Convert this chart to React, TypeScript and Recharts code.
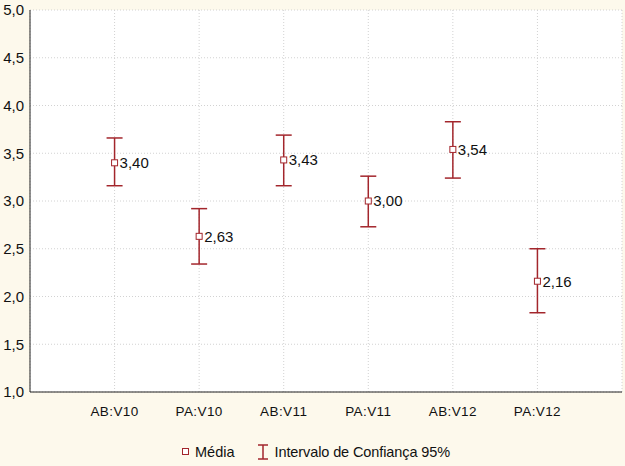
import React from 'react';
import { LineChart, Line, XAxis, YAxis, CartesianGrid, ErrorBar, LabelList } from 'recharts';

const categories = ['AB:V10', 'PA:V10', 'AB:V11', 'PA:V11', 'AB:V12', 'PA:V12'];
const means = [3.4, 2.63, 3.43, 3.0, 3.54, 2.16];
const ciLow = [3.16, 2.34, 3.16, 2.73, 3.24, 1.83];
const ciHigh = [3.66, 2.92, 3.69, 3.26, 3.83, 2.5];
const yTicks = [1, 1.5, 2, 2.5, 3, 3.5, 4, 4.5, 5];

const RED = '#a3262c';
const FONT = '"Liberation Sans", Arial, sans-serif';

const data = categories.map((name, i) => ({
  x: i + 1,
  name,
  mean: means[i],
  ci: [means[i] - ciLow[i], ciHigh[i] - means[i]],
}));

const fmt = (v: number) => v.toFixed(2).replace('.', ',');

const SquareDot = (props: any) => {
  const { cx, cy } = props;
  if (cx == null || cy == null) return null;
  return <rect x={cx - 3} y={cy - 3} width={6} height={6} fill="#fff" stroke={RED} strokeWidth={1} />;
};

export default function App() {
  return (
    <div style={{ position: 'fixed', left: 0, top: 0, width: 625, height: 466, background: '#fdf9ec', fontFamily: FONT }}>
      <LineChart width={625} height={466} data={data} margin={{ top: 10, right: 3, left: 0, bottom: 0 }}>
        <CartesianGrid stroke="#d2d2d2" strokeDasharray="1 2" fill="#fff" />
        <XAxis
          dataKey="x"
          type="number"
          domain={[0, 7]}
          ticks={[1, 2, 3, 4, 5, 6]}
          tickFormatter={(v: number) => categories[v - 1] ?? ''}
          height={74}
          stroke="#222"
          tickLine={false}
          tick={{ fill: '#111', fontSize: 13.5, fontFamily: FONT, dy: 6, letterSpacing: 0.4 }}
        />
        <XAxis xAxisId="top" orientation="top" dataKey="x" type="number" domain={[0, 7]} tick={false} tickLine={false} height={0} stroke="#222" />
        <YAxis
          domain={[1, 5]}
          ticks={yTicks}
          tickFormatter={(v: number) => v.toFixed(1).replace('.', ',')}
          width={30}
          stroke="#222"
          tickLine={false}
          tickMargin={0}
          tick={{ fill: '#111', fontSize: 15, fontFamily: FONT }}
        />
        <YAxis yAxisId="right" orientation="right" domain={[1, 5]} tick={false} tickLine={false} width={0} stroke="#222" />
        <Line dataKey="mean" stroke="none" dot={<SquareDot />} activeDot={false} isAnimationActive={false}>
          <ErrorBar dataKey="ci" direction="y" width={8} stroke={RED} strokeWidth={1.5} />
          <LabelList dataKey="mean" position="right" offset={5} formatter={(v: any) => fmt(Number(v))} style={{ fill: '#111', fontSize: 15, fontFamily: FONT }} />
        </Line>
      </LineChart>
      <div style={{ position: 'absolute', top: 444, left: 182, display: 'flex', alignItems: 'center', fontSize: 14.5, color: '#111', whiteSpace: 'nowrap' }}>
        <svg width={8} height={8} style={{ marginRight: 5 }}>
          <rect x={0.5} y={0.5} width={6} height={6} fill="#fff" stroke={RED} />
        </svg>
        <span>Média</span>
        <svg width={12} height={16} style={{ marginLeft: 22, marginRight: 6 }}>
          <path d="M1 1 H11 M6 1 V15 M1 15 H11" stroke={RED} strokeWidth={1.5} fill="none" />
        </svg>
        <span style={{ letterSpacing: -0.1 }}>Intervalo de Confiança 95%</span>
      </div>
    </div>
  );
}
